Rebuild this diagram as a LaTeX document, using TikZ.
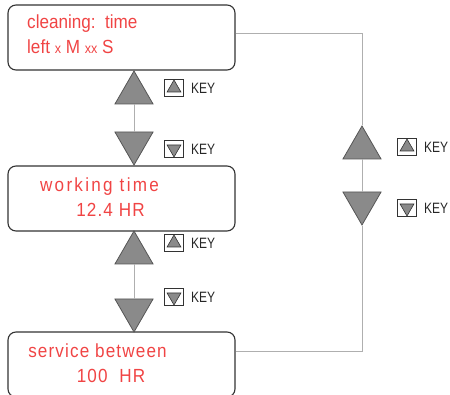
\documentclass[tikz,border=0pt]{standalone}
\usepackage{fontspec}
\setmainfont{Liberation Sans}
\newfontfamily\dispfont[FakeStretch=0.9]{Liberation Sans}
\newfontfamily\widefont[FakeStretch=0.9,LetterSpace=6]{Liberation Sans}
\newfontfamily\widerfont[FakeStretch=0.9,LetterSpace=12]{Liberation Sans}
\newfontfamily\keyfont[FakeStretch=0.8]{Liberation Sans}
\usetikzlibrary{shapes.geometric,positioning}
\definecolor{disptext}{RGB}{240,68,68}
\definecolor{trifill}{RGB}{138,138,138}
\definecolor{tridraw}{RGB}{85,85,85}
\definecolor{wire}{RGB}{175,175,175}
\begin{document}
\begin{tikzpicture}[x=1pt,y=-1pt]
        \tikzset{screen/.style = {draw=black!80,line width=1.1pt,rounded corners=8pt,minimum width=227pt,minimum height=65pt,inner sep=0pt}}
        \tikzset{disp/.style = {text=disptext,font=\dispfont\fontsize{19}{22}\selectfont,inner sep=0pt}}
        \tikzset{wdisp/.style = {disp,font=\widefont\fontsize{19}{22}\selectfont}}
        \tikzset{uptri/.style = {regular polygon,regular polygon sides=3,fill=trifill,draw=tridraw,line width=0.8pt,minimum size=44pt,inner sep=0pt}}
        \tikzset{dntri/.style = {uptri,shape border rotate=180}}
        \tikzset{keybox/.style = {draw=black!80,line width=0.8pt,minimum width=19pt,minimum height=17pt,inner sep=0pt}}
        \tikzset{keyup/.style = {regular polygon,regular polygon sides=3,fill=trifill,draw=black!80,line width=0.6pt,minimum size=16pt,inner sep=0pt}}
        \tikzset{keydn/.style = {keyup,shape border rotate=180}}
        \tikzset{keylbl/.style = {font=\keyfont\fontsize{15}{17}\selectfont,text=black!85,inner sep=0pt}}
        \tikzset{wire/.style = {draw=wire,line width=1pt}}
        \clip (0,0) rectangle (450,395);
        % display screens
        \node[screen] (clean) at (121.5,37.5) {};
        \node[screen] (work) at (121.5,198.5) {};
        \node[screen] (service) at (121.5,364.5) {};
        \node[disp,anchor=base west] (cleanA) at (27,29) {cleaning:\ \ time};
        \node[disp,anchor=base west] (cleanB) at (27,54) {left {\fontsize{14}{16}\selectfont x} M {\fontsize{14}{16}\selectfont xx} S};
        \node[wdisp,anchor=base,font=\widerfont\fontsize{19}{22}\selectfont] (workA) at (99.5,192) {working time};
        \node[wdisp,anchor=base] (workB) at (110.5,217) {12.4 HR};
        \node[wdisp,anchor=base] (servA) at (97.5,358) {service between};
        \node[wdisp,anchor=base] (servB) at (111,383) {100\ \ HR};
        % arrows on the left
        \node[uptri] (up1) at (134,93) {};
        \node[dntri] (dn1) at (134,143) {};
        \node[uptri] (up2) at (134,253) {};
        \node[dntri] (dn2) at (134,310) {};
        % arrows on the right
        \node[uptri] (up3) at (362,148) {};
        \node[dntri] (dn3) at (362,203) {};
        % wires
        \draw[wire] (up1.side 2) -- (dn1.side 2);
        \draw[wire] (up2.side 2) -- (dn2.side 2);
        \draw[wire] (up3.side 2) -- (dn3.side 2);
        \draw[wire] ([yshift=3.5pt]clean.east) -| (up3.corner 1);
        \draw[wire] (dn3.corner 1) |- ([yshift=12.5pt]service.east);
        % keys
        \node[keybox] (k1) at (174,88) {};
        \node[keyup] at (k1) {};
        \node[keylbl,right=7pt of k1] (k1l) {KEY};
        \node[keybox] (k2) at (174,149) {};
        \node[keydn] at (k2) {};
        \node[keylbl,right=7pt of k2] (k2l) {KEY};
        \node[keybox] (k3) at (174,243) {};
        \node[keyup] at (k3) {};
        \node[keylbl,right=7pt of k3] (k3l) {KEY};
        \node[keybox] (k4) at (174,297) {};
        \node[keydn] at (k4) {};
        \node[keylbl,right=7pt of k4] (k4l) {KEY};
        \node[keybox] (k5) at (407,147) {};
        \node[keyup] at (k5) {};
        \node[keylbl,right=7pt of k5] (k5l) {KEY};
        \node[keybox] (k6) at (407,208) {};
        \node[keydn] at (k6) {};
        \node[keylbl,right=7pt of k6] (k6l) {KEY};
\end{tikzpicture}
\end{document}
